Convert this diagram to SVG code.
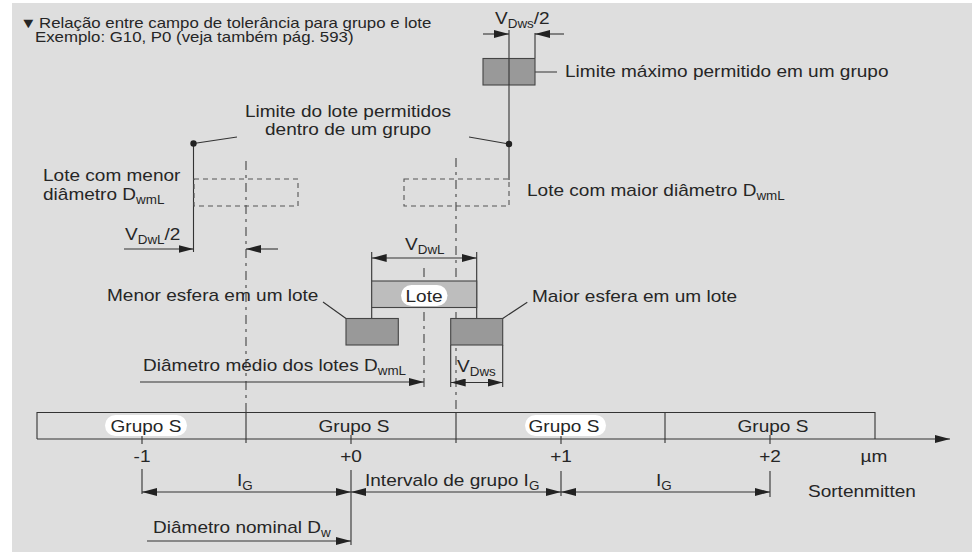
<svg xmlns="http://www.w3.org/2000/svg" width="972" height="552" viewBox="0 0 972 552">
<defs>
<style>
.t{font-family:"Liberation Sans",Arial,Helvetica,sans-serif;font-size:17px;fill:#262626}
.ti{font-size:14.5px}
.s{font-size:12px}
.m{text-anchor:middle}
.ln{stroke:#333;stroke-width:1.1;fill:none}
.dm{stroke:#333;stroke-width:1.1;fill:none;marker-end:url(#ah)}
.dd{stroke:#333;stroke-width:1.1;fill:none;marker-start:url(#ah);marker-end:url(#ah)}
.cl{stroke:#444;stroke-width:1.1;fill:none;stroke-dasharray:9 5 3 5}
.dr{stroke:#555;stroke-width:1.1;fill:none;stroke-dasharray:5 4}
.dk{fill:#999;stroke:#444;stroke-width:1.1}
.lt{fill:#bdbdbd;stroke:#444;stroke-width:1.1}
.pill{fill:#fff}
</style>
<marker id="ah" viewBox="0 0 15 8" refX="15" refY="4" markerWidth="15" markerHeight="8" markerUnits="userSpaceOnUse" orient="auto-start-reverse">
<path d="M0,0 L15,4 L0,8 z" fill="#222"/>
</marker>
</defs>
<rect x="12" y="3" width="960" height="549" fill="#dedede"/>

<g id="title">
<text class="t ti" transform="translate(20 27.5) scale(1.16 1)">▼</text>
<text class="t ti" transform="translate(39 27.5) scale(1.16 1)">Relação entre campo de tolerância para grupo e lote</text>
<text class="t ti" transform="translate(35 41.5) scale(1.16 1)">Exemplo: G10, P0 (veja também pág. 593)</text>
</g>

<g id="connectors">
<path class="cl" d="M246,161 V412.5 M456,158 V412.5 M424,268 V388"/>
<path class="ln" d="M509,30 V180 M535,33 V58 M535,72 H557 M469,137 L509,144"/>
<path class="ln" d="M193.5,143.5 V252 M193.5,143.5 L237,137"/>
<path class="ln" d="M371.7,252 V318.5 M476.7,252 V318.5"/>
<path class="ln" d="M450.7,345 V387 M502.7,345 V387"/>
<path class="ln" d="M323,302 L346,318.5 M502.7,318.5 L527.3,302.3"/>
<path class="dm" d="M483,34 H509"/>
<path class="dm" d="M564,34 H535"/>
<path class="dm" d="M124,249 H193.5"/>
<path class="dm" d="M278,249 H246"/>
<path class="dd" d="M371.7,258 H476.7"/>
<path class="dm" d="M140,382 H424"/>
<path class="dd" d="M450.7,382.5 H502.7"/>
<path class="ln" d="M142,469 V494 M351,470 V545 M561,471 V496 M770,471 V497"/>
<path class="dd" d="M142,492 H351"/>
<path class="dd" d="M351,492 H561"/>
<path class="dd" d="M561,492 H770"/>
<path class="dm" d="M147,541 H351"/>
</g>

<g id="max-group">
<rect class="dk" x="483" y="58.5" width="52" height="26.5"/>
<path class="ln" d="M509,58.5 V85"/>
<text class="t" transform="translate(565 77) scale(1.12 1)">Limite máximo permitido em um grupo</text>
<text class="t" transform="translate(495 24) scale(1.12 1)">V<tspan class="s" dy="4">Dws</tspan><tspan dy="-4">/2</tspan></text>
</g>
<circle cx="509" cy="144" r="3.2" fill="#222"/>
<circle cx="193.5" cy="143.5" r="3.2" fill="#222"/>

<g id="lot-limit">
<text class="t m" transform="translate(348 117) scale(1.12 1)">Limite do lote permitidos</text>
<text class="t m" transform="translate(348 135) scale(1.12 1)">dentro de um grupo</text>
</g>

<g id="lot-min">
<rect class="dr" x="194" y="179" width="104" height="27"/>
<text class="t" transform="translate(43 181) scale(1.12 1)">Lote com menor</text>
<text class="t" transform="translate(43 200) scale(1.12 1)">diâmetro D<tspan class="s" dy="4">wmL</tspan></text>
<text class="t" transform="translate(125 240) scale(1.12 1)">V<tspan class="s" dy="4">DwL</tspan><tspan dy="-4">/2</tspan></text>
</g>

<g id="lot-max">
<rect class="dr" x="404" y="179" width="105" height="27"/>
<text class="t" transform="translate(527 196) scale(1.12 1)">Lote com maior diâmetro D<tspan class="s" dy="4">wmL</tspan></text>
</g>

<g id="lot">
<rect class="lt" x="371.7" y="281" width="105" height="26.5"/>
<rect class="pill" x="401" y="285" width="46.5" height="21" rx="10.5"/>
<text class="t m" transform="translate(424 302) scale(1.12 1)">Lote</text>
<text class="t" transform="translate(405 250) scale(1.12 1)">V<tspan class="s" dy="4">DwL</tspan></text>
</g>

<g id="ball-min">
<rect class="dk" x="346" y="318.5" width="52.3" height="26.5"/>
<text class="t" transform="translate(107 301) scale(1.12 1)">Menor esfera em um lote</text>
</g>

<g id="ball-max">
<rect class="dk" x="450.7" y="318.5" width="52" height="26.5"/>
<text class="t" transform="translate(532 302) scale(1.12 1)">Maior esfera em um lote</text>
<text class="t" transform="translate(457 372) scale(1.12 1)">V<tspan class="s" dy="4">Dws</tspan></text>
</g>

<g id="mean">
<text class="t" transform="translate(143 371) scale(1.12 1)">Diâmetro médio dos lotes D<tspan class="s" dy="4">wmL</tspan></text>
</g>

<g id="groups">
<path class="ln" d="M37,439 V412.5 H875 V439"/>
<path class="dm" d="M37,439 H950"/>
<path class="ln" d="M246,412.5 V443 M456,412.5 V443 M665,412.5 V443"/>
<path class="ln" d="M142,435 V444 M351,435 V444 M561,435 V444 M770,435 V444"/>
<rect class="pill" x="105" y="415" width="82" height="21" rx="10.5"/>
<rect class="pill" x="525" y="415" width="81" height="21" rx="10.5"/>
<text class="t m" transform="translate(146 432) scale(1.12 1)">Grupo S</text>
<text class="t m" transform="translate(354 432) scale(1.12 1)">Grupo S</text>
<text class="t m" transform="translate(564 432) scale(1.12 1)">Grupo S</text>
<text class="t m" transform="translate(773 432) scale(1.12 1)">Grupo S</text>
</g>

<g id="scale">
<text class="t m" transform="translate(142 462) scale(1.12 1)">-1</text>
<text class="t m" transform="translate(351 462) scale(1.12 1)">+0</text>
<text class="t m" transform="translate(561 462) scale(1.12 1)">+1</text>
<text class="t m" transform="translate(770 462) scale(1.12 1)">+2</text>
<text class="t m" transform="translate(874 462) scale(1.12 1)">µm</text>
<text class="t" transform="translate(237 486) scale(1.12 1)">I<tspan class="s" dy="4">G</tspan></text>
<text class="t" transform="translate(365 486) scale(1.12 1)">Intervalo de grupo I<tspan class="s" dy="4">G</tspan></text>
<text class="t" transform="translate(656 486) scale(1.12 1)">I<tspan class="s" dy="4">G</tspan></text>
<text class="t" transform="translate(808 497) scale(1.12 1)">Sortenmitten</text>
<text class="t" transform="translate(153 533) scale(1.12 1)">Diâmetro nominal D<tspan class="s" dy="4">w</tspan></text>
</g>
</svg>
